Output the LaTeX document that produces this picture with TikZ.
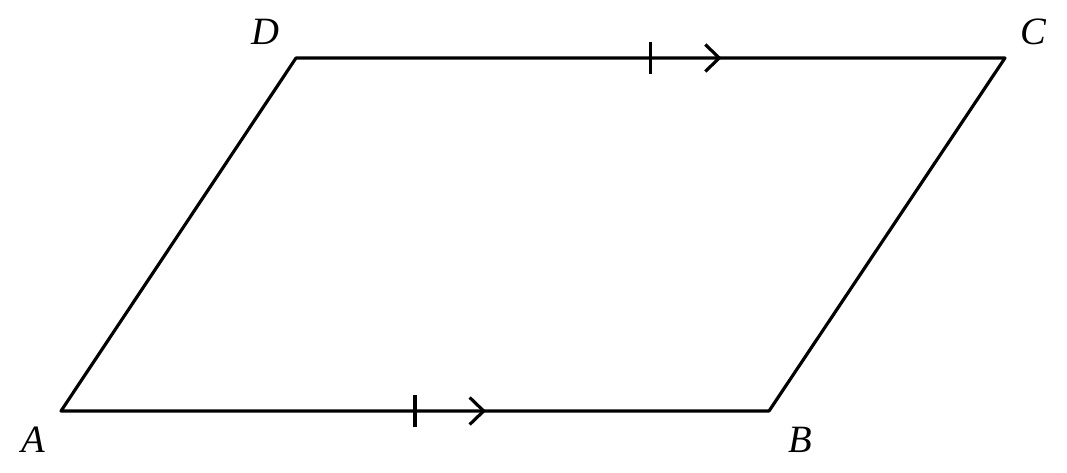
\documentclass[tikz,border=0pt]{standalone}
\usepackage{fontspec}
\setmainfont{Liberation Serif}
\usetikzlibrary{calc}
\begin{document}
\begin{tikzpicture}[line join=round, line cap=butt, line width=1.8pt, font=\fontsize{22}{26}\selectfont\itshape]
            \useasboundingbox (0,0) rectangle (21.34,9.44);
            \coordinate (A) at (1.22,1.22);
            \coordinate (B) at (15.38,1.22);
            \coordinate (C) at (20.10,8.28);
            \coordinate (D) at (5.92,8.28);
            \draw (A)--(B)--(C)--(D)--cycle;
            \node (lA) at (0.66,0.64) {A};
            \node (lB) at (16.0,0.64) {B};
            \node (lC) at (20.66,8.80) {C};
            \node (lD) at (5.30,8.80) {D};
            % dấu song song
            \foreach \p/\q in {A/B,D/C}{
                \draw ($(\p)!0.5!(\q)$)+(0,-0.32)--+(0,0.32);
                \draw ($(\p)!0.597!(\q)$)+(-0.28,0.27)--+(0,0)--+(-0.28,-0.27);
            }
        \end{tikzpicture}
\end{document}
